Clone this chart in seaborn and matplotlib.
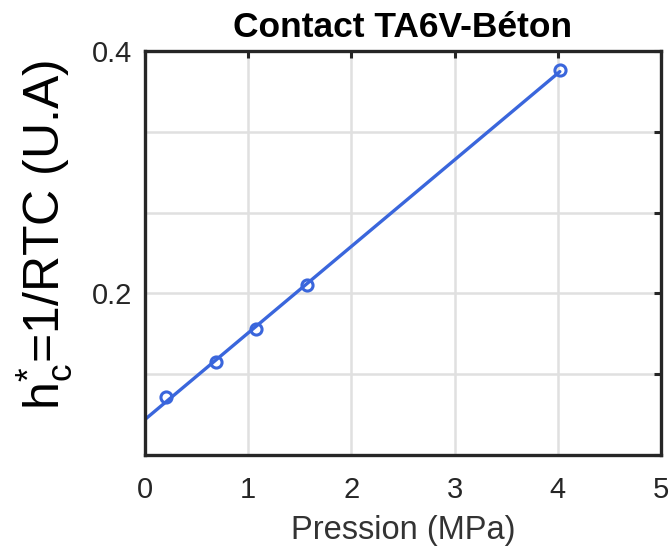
import numpy as np
import pandas as pd
import matplotlib
matplotlib.use("Agg")
import matplotlib.pyplot as plt
import seaborn as sns

# data
pression = [0.20, 0.69, 1.08, 1.57, 4.02]
h_c = [0.1147, 0.1435, 0.1703, 0.2069, 0.3843]
y_ticks = [0.4 - i * 0.2 / 3 for i in range(6)]
y_tick_labels = ["0.4", "", "", "0.2", "", ""]
x_ticks = [0, 1, 2, 3, 4, 5]

df = pd.DataFrame({"Pression": pression, "h": h_c})

# linear fit, drawn from 0 to the last point
slope, intercept = np.polyfit(df["Pression"], df["h"], 1)
fit = pd.DataFrame({"Pression": [0.0, max(pression)]})
fit["h"] = intercept + slope * fit["Pression"]

sns.set_style("white")
plt.rcParams["font.family"] = ["Liberation Sans", "DejaVu Sans"]
plt.rcParams["mathtext.fontset"] = "custom"
plt.rcParams["mathtext.rm"] = "Liberation Sans"
plt.rcParams["mathtext.it"] = "Liberation Sans"

blue = "#3a66dc"

fig = plt.figure(figsize=(6.69, 5.51), dpi=100)
ax = fig.add_axes([0.2167, 0.1742, 0.7713, 0.7332])

sns.lineplot(data=fit, x="Pression", y="h", color=blue, linewidth=2.4, ax=ax)
ax.plot(df["Pression"], df["h"], linestyle="none", marker="o", markersize=8,
        markerfacecolor="none", markeredgecolor=blue, markeredgewidth=2.2)

ax.set_xlim(0, 5)
ax.set_ylim(0.4 - 0.2 * 5 / 3, 0.4)
ax.set_xticks(x_ticks)
ax.set_yticks(y_ticks)
ax.set_yticklabels(y_tick_labels)

ax.grid(True, color="#e0e0e0", linewidth=1.8)
ax.set_axisbelow(True)
for s in ax.spines.values():
    s.set_color("#262626")
    s.set_linewidth(2.4)
ax.tick_params(direction="in", length=5, width=2.2, color="#262626",
               top=True, right=True, labelsize=21, labelcolor="#262626")
ax.tick_params(axis="x", pad=15)
ax.tick_params(axis="y", pad=9)

ax.set_xlabel("Pression (MPa)", fontsize=23.5, color="#333333", labelpad=8)
ax.set_ylabel(r"h$^{*}_{\mathrm{c}}$=1/RTC (U.A)", fontsize=36, color="black")
ax.yaxis.set_label_coords(-0.135, 0.545)
ax.set_title("Contact TA6V-Béton", fontsize=25.5, fontweight="bold", pad=10, color="black")

fig.savefig("out.png", dpi=100)
